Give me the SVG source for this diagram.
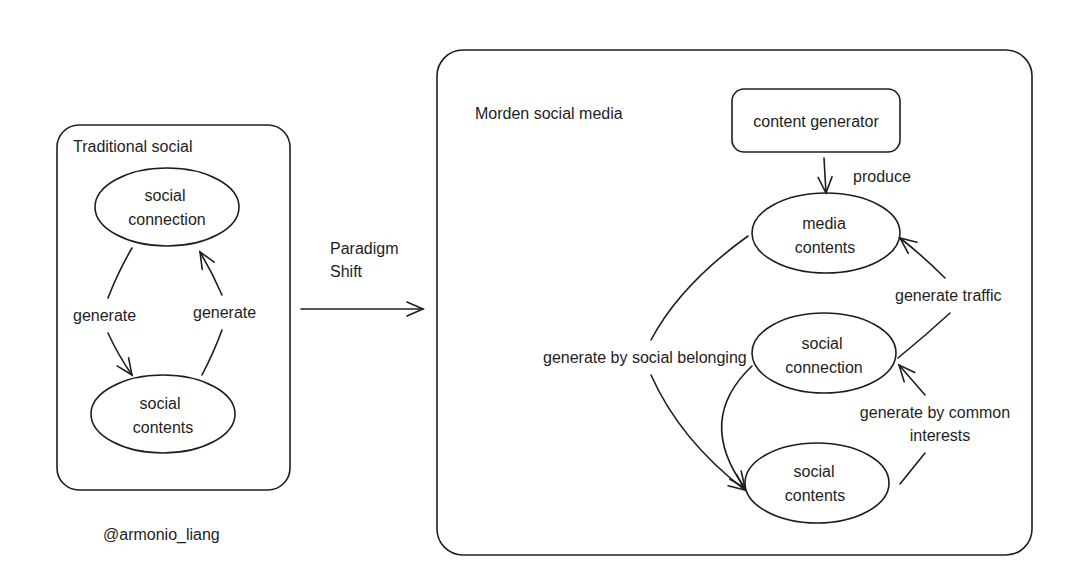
<svg xmlns="http://www.w3.org/2000/svg" width="1080" height="570" viewBox="0 0 1080 570">
<style>
.s{fill:none;stroke:#1e1e1e;stroke-width:1.6;stroke-linecap:round;stroke-linejoin:round}
.t{font-family:"Liberation Sans","Noto Sans",sans-serif;font-size:16px;fill:#1e1e1e}
.c{text-anchor:middle}
</style>
<defs>
<marker id="ah" viewBox="0 0 20 20" refX="18" refY="10" markerWidth="20" markerHeight="20" markerUnits="userSpaceOnUse" orient="auto">
<path d="M2,3 L18,10 L2,17" fill="none" stroke="#1e1e1e" stroke-width="1.6" stroke-linecap="round"/>
</marker>
</defs>
<rect width="1080" height="570" fill="#fff"/>
<g id="traditional">
<rect class="s" x="57" y="125" width="233" height="365" rx="22"/>
<text class="t" x="73" y="152">Traditional social</text>
</g>
<g id="t-connection">
<ellipse class="s" cx="167" cy="207" rx="72" ry="39"/>
<text class="t c" x="165" y="201">social</text>
<text class="t c" x="167" y="225">connection</text>
</g>
<g id="t-contents">
<ellipse class="s" cx="163" cy="414" rx="72" ry="39"/>
<text class="t c" x="160" y="409">social</text>
<text class="t c" x="163" y="433">contents</text>
</g>
<g id="modern">
<rect class="s" x="437" y="50" width="595" height="505" rx="26"/>
<text class="t" x="475" y="119">Morden social media</text>
</g>
<g id="generator">
<rect class="s" x="732" y="89" width="168" height="63" rx="12"/>
<text class="t c" x="816" y="127">content generator</text>
</g>
<g id="media">
<ellipse class="s" cx="826" cy="233" rx="74" ry="40"/>
<text class="t c" x="824" y="229">media</text>
<text class="t c" x="825" y="253">contents</text>
</g>
<g id="m-connection">
<ellipse class="s" cx="824" cy="353" rx="72" ry="40"/>
<text class="t c" x="822" y="349">social</text>
<text class="t c" x="824" y="373">connection</text>
</g>
<g id="m-contents">
<ellipse class="s" cx="817" cy="483" rx="72" ry="40"/>
<text class="t c" x="814" y="477">social</text>
<text class="t c" x="815" y="501">contents</text>
</g>
<g id="connectors">
<path class="s" d="M132,248 Q118,272 108,298"/>
<path class="s" d="M108,333 Q118,355 132,375" marker-end="url(#ah)"/>
<path class="s" d="M202,375 Q214,352 222,330"/>
<path class="s" d="M222,295 Q212,272 200,252" marker-end="url(#ah)"/>
<path class="s" d="M301,309 L423,309" marker-end="url(#ah)"/>
<path class="s" d="M824,158 L826,193" marker-end="url(#ah)"/>
<path class="s" d="M898,358 Q925,336 950,313"/>
<path class="s" d="M945,278 Q923,256 900,238" marker-end="url(#ah)"/>
<path class="s" d="M900,484 L925,453"/>
<path class="s" d="M925,395 L899,365" marker-end="url(#ah)"/>
<path class="s" d="M748,236 Q680,285 651,340"/>
<path class="s" d="M651,375 Q680,440 745,490" marker-end="url(#ah)"/>
<path class="s" d="M752,366 Q695,420 745,488" marker-end="url(#ah)"/>
</g>
<g id="labels">
<text class="t" x="73" y="321">generate</text>
<text class="t" x="193" y="318">generate</text>
<text class="t" x="330" y="254">Paradigm</text>
<text class="t" x="330" y="277">Shift</text>
<text class="t" x="853" y="182">produce</text>
<text class="t" x="895" y="301">generate traffic</text>
<text class="t" x="543" y="363">generate by social belonging</text>
<text class="t c" x="935" y="418">generate by common</text>
<text class="t c" x="940" y="441">interests</text>
<text class="t" x="103" y="540">@armonio_liang</text>
</g>
</svg>
